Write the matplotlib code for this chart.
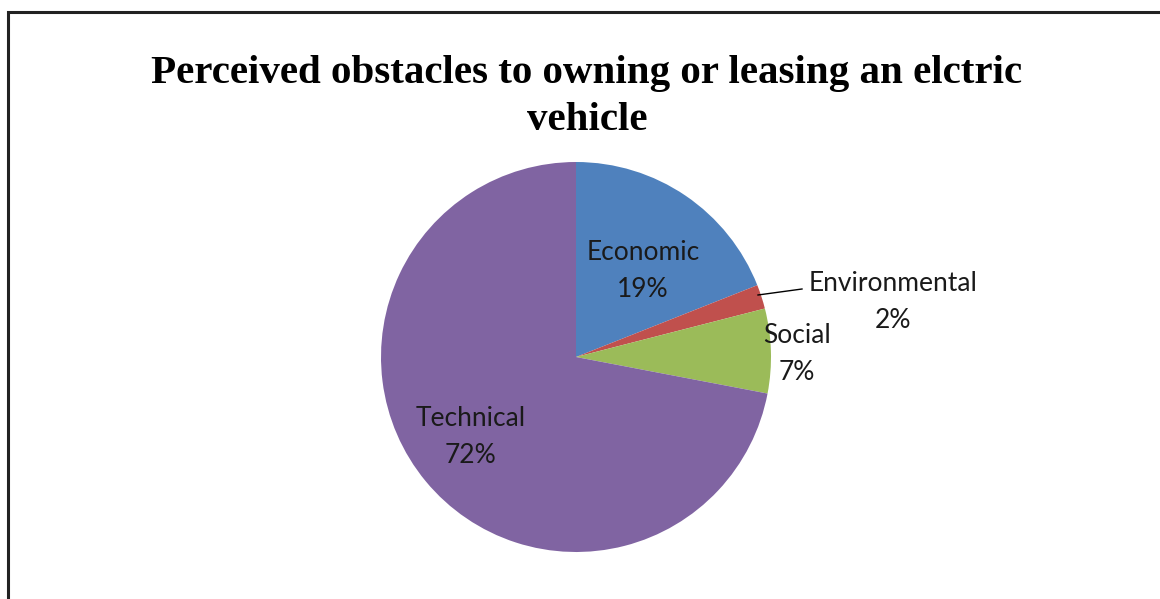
import matplotlib
matplotlib.use('Agg')
import matplotlib.pyplot as plt
from matplotlib.patches import Rectangle

# obstacle categories and their shares (%)
categories = ['Economic', 'Environmental', 'Social', 'Technical']
shares = [19, 2, 7, 72]
colors = ['#4F81BD', '#C0504D', '#9BBB59', '#8064A2']
title_lines = ['Perceived obstacles to owning or leasing an elctric', 'vehicle']

W, H = 1160, 599
fig = plt.figure(figsize=(W / 100, H / 100), dpi=100)
ax = fig.add_axes([0, 0, 1, 1])

# outer frame (runs off the right and bottom edges)
fig.patches.append(Rectangle((8 / W, -0.1), 1.2, (H - 12) / H + 0.1,
                             transform=fig.transFigure, fill=False,
                             edgecolor='#222222', linewidth=2.2))

cx, cy, r = 576, H - 357, 195
wedges, _ = ax.pie(shares, colors=colors, startangle=90, counterclock=False,
                   radius=r, center=(cx, cy), frame=True,
                   wedgeprops=dict(linewidth=0))
ax.set_xlim(0, W)
ax.set_ylim(0, H)
ax.set_aspect('equal')
ax.axis('off')

# two-line title, baselines set explicitly
for i, line in enumerate(title_lines):
    ax.text(587, H - 83 - 47 * i, line, ha='center', va='baseline',
            fontsize=29.5, fontweight='bold', family='Liberation Serif')

label_pos = {
    'Economic': (643, H - 271),
    'Environmental': (893, H - 302),
    'Social': (797, H - 354),
    'Technical': (471, H - 437),
}
for name, val in zip(categories, shares):
    x, y = label_pos[name]
    ax.text(x, y, '%s\n%d%%' % (name, val), ha='center', va='center',
            fontsize=19, family='Lato', color='#1a1a1a', linespacing=1.6)

# leader line for the thin slice
ax.plot([758, 802], [H - 295, H - 289], color='black', lw=1)

fig.savefig('out.png', dpi=100)
